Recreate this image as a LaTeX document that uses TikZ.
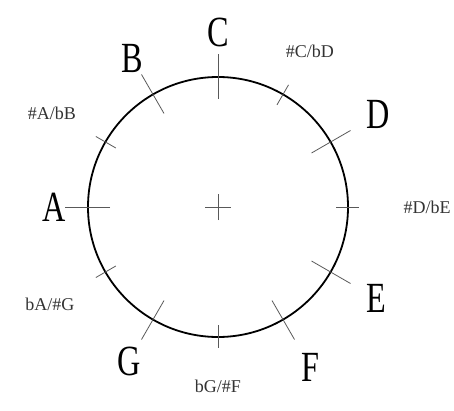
\documentclass[tikz,border=0pt]{standalone}
\usepackage{fontspec}
\setmainfont{Liberation Serif}
\newfontfamily\notefont[FakeStretch=0.75]{Liberation Serif}
\usetikzlibrary{calc}

\begin{document}
\begin{tikzpicture}[x=1pt,y=1pt,
  note/.style={font=\notefont\fontsize{43}{43}\selectfont, inner sep=0pt},
  accidental/.style={font=\fontsize{18}{18}\selectfont, text=black!80, inner sep=0pt},
  tick/.style={draw=black!65, line width=0.8pt}]
  \useasboundingbox (0,0) rectangle (454,410);
  \coordinate (O) at (218,203);

  \draw[line width=1.8pt] (O) circle (130);
  \draw[tick] ($(O)+(-13,0)$) -- ($(O)+(13,0)$);
  \draw[tick] ($(O)+(0,-13)$) -- ($(O)+(0,13)$);

  % natural notes
  \foreach \a in {180,120,90,30,-30,-60,-120}
    \draw[tick] ($(O)+(\a:108)$) -- ($(O)+(\a:153)$);
  % sharps and flats
  \foreach \a in {150,60,0,-90,-150}
    \draw[tick] ($(O)+(\a:118)$) -- ($(O)+(\a:141)$);

  \foreach \a/\r/\n in {180/164/A,120/171/B,90/175/C,30/185/D,-30/183/E,-60/185/F,-120/178/G}
    \node[note] (\n) at ($(O)+(\a:\r)$) {\n};

  \node[accidental] (AsBb) at ($(O)+(150.5:191)$) {\#A/bB};
  \node[accidental] (CsDb) at ($(O)+(59.5:181)$) {\#C/bD};
  \node[accidental] (DsEb) at ($(O)+(0:209)$) {\#D/bE};
  \node[accidental] (GbFs) at ($(O)+(-90:179)$) {bG/\#F};
  \node[accidental] (AbGs) at ($(O)+(-150:194)$) {bA/\#G};
\end{tikzpicture}
\end{document}
